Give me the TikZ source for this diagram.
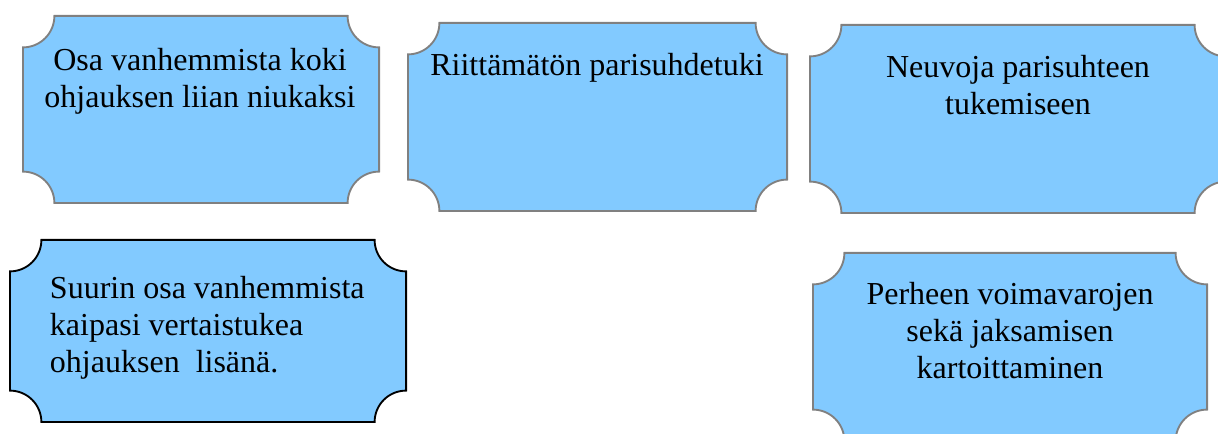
\documentclass[tikz,border=0pt]{standalone}
\usepackage{fontspec}
\setmainfont{Liberation Serif}
\definecolor{plaquefill}{RGB}{130,202,255}
\definecolor{plaquegray}{RGB}{128,128,128}
% corner notch radius and inset of the outline
\newcommand\plr{23.6pt}
\newcommand\pld{0.7pt}
\tikzset{
  plaque outline/.style={fill=plaquefill, draw=plaquegray, line width=1.4pt},
  plaque extra/.style={},
  dark plaque/.style={plaque extra/.style={draw=black, line width=1.4pt}},
  % rectangle with concave quarter-circle notches at the four corners
  plaque/.style 2 args={rectangle, inner sep=0pt, outer sep=0pt,
    minimum width=#1*0.75pt, minimum height=#2*0.75pt,
    path picture={\path[plaque outline, plaque extra]
      ([shift={(-\plr-\pld,-\pld)}]path picture bounding box.north east)
      arc[start angle=180, end angle=270, radius=\plr]
      -- ([shift={(-\pld,\plr+\pld)}]path picture bounding box.south east)
      arc[start angle=90, end angle=180, radius=\plr]
      -- ([shift={(\plr+\pld,\pld)}]path picture bounding box.south west)
      arc[start angle=0, end angle=90, radius=\plr]
      -- ([shift={(\pld,-\plr-\pld)}]path picture bounding box.north west)
      arc[start angle=270, end angle=360, radius=\plr]
      -- cycle;}},
  plaque text/.style={inner sep=0pt, outer sep=0pt,
    font=\fontsize{24pt}{27.75pt}\selectfont},
}
\begin{document}
\begin{tikzpicture}[x=0.75pt, y=-0.75pt]
\path[use as bounding box, clip] (0,0) rectangle (1218,434);

\node[plaque={358}{189}] (b1) at (201,109.5) {};
\node[plaque={381}{190}] (b2) at (597.5,117) {};
\node[plaque={418}{190}] (b3) at (1018,119) {};
\node[plaque={398}{184}, dark plaque] (b4) at (208,331) {};
\node[plaque={396}{190}] (b5) at (1010,347) {};

\node[plaque text, align=center, anchor=north] (t1) at (200,48)
  {Osa vanhemmista koki\\ohjauksen liian niukaksi};
\node[plaque text, align=center, anchor=north] (t2) at (597,53)
  {Riittämätön parisuhdetuki};
\node[plaque text, align=center, anchor=north] (t3) at (1018,55)
  {Neuvoja parisuhteen\\tukemiseen};
\node[plaque text, align=left, anchor=north west] (t4) at (50,276)
  {Suurin osa vanhemmista\\kaipasi vertaistukea\\ohjauksen\ \ lisänä.};
\node[plaque text, align=center, anchor=north] (t5) at (1010,282)
  {Perheen voimavarojen\\sekä jaksamisen\\kartoittaminen};
\end{tikzpicture}
\end{document}
